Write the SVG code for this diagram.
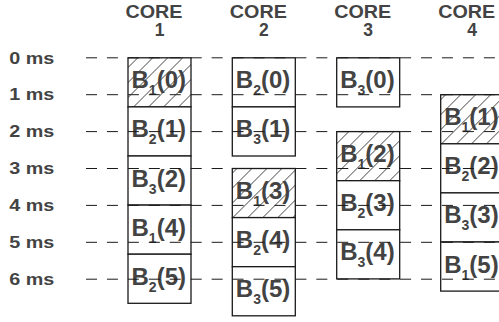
<svg xmlns="http://www.w3.org/2000/svg" width="499" height="322" viewBox="0 0 499 322">
<style>
text{font-family:"Liberation Sans",Arial,sans-serif;font-weight:bold;fill:#434343}
.hd{font-size:18.6px;text-anchor:middle}
.num{font-size:17.5px;text-anchor:middle}
.tm{font-size:16px}
.bl{font-size:24px}
.sub{font-size:14px}
.box{fill:#fff;stroke:#1a1a1a;stroke-width:1.3}
.hatch{fill:url(#hatch);stroke:#1a1a1a;stroke-width:1.3}
.grid{stroke:#1a1a1a;stroke-width:1;stroke-dasharray:11 9.94;fill:none}
</style>
<defs>
<pattern id="hatch" patternUnits="userSpaceOnUse" width="10.6" height="10.6" patternTransform="rotate(45)">
<rect width="10.6" height="10.6" fill="#fff"/>
<line x1="0" y1="0" x2="0" y2="10.6" stroke="#111" stroke-width="1.2"/>
</pattern>
</defs>
<g id="headers">
<text class="hd" x="154" y="18.3" textLength="57" lengthAdjust="spacingAndGlyphs">CORE</text>
<text class="num" x="159.5" y="36">1</text>
<text class="hd" x="258.3" y="18.3" textLength="57" lengthAdjust="spacingAndGlyphs">CORE</text>
<text class="num" x="263.8" y="36">2</text>
<text class="hd" x="362.7" y="18.3" textLength="57" lengthAdjust="spacingAndGlyphs">CORE</text>
<text class="num" x="368.2" y="36">3</text>
<text class="hd" x="466.7" y="18.3" textLength="57" lengthAdjust="spacingAndGlyphs">CORE</text>
<text class="num" x="472.2" y="36">4</text>
</g>
<g id="time-labels">
<text class="tm" x="9.3" y="63.5" textLength="45" lengthAdjust="spacingAndGlyphs">0 ms</text>
<text class="tm" x="9.3" y="100.4" textLength="45" lengthAdjust="spacingAndGlyphs">1 ms</text>
<text class="tm" x="9.3" y="137.3" textLength="45" lengthAdjust="spacingAndGlyphs">2 ms</text>
<text class="tm" x="9.3" y="174.2" textLength="45" lengthAdjust="spacingAndGlyphs">3 ms</text>
<text class="tm" x="9.3" y="211.1" textLength="45" lengthAdjust="spacingAndGlyphs">4 ms</text>
<text class="tm" x="9.3" y="248" textLength="45" lengthAdjust="spacingAndGlyphs">5 ms</text>
<text class="tm" x="9.3" y="284.9" textLength="45" lengthAdjust="spacingAndGlyphs">6 ms</text>
</g>
<g id="core1">
<g id="c1-b1-0"><rect class="hatch" x="128" y="57.8" width="63" height="49.1"/><text class="bl" x="131.5" y="88.3">B<tspan class="sub" dy="7">1</tspan><tspan dy="-7">(0)</tspan></text></g>
<g id="c1-b2-1"><rect class="box" x="128" y="106.9" width="63" height="49.1"/><text class="bl" x="131.5" y="137.4">B<tspan class="sub" dy="7">2</tspan><tspan dy="-7">(1)</tspan></text></g>
<g id="c1-b3-2"><rect class="box" x="128" y="156" width="63" height="49.1"/><text class="bl" x="131.5" y="186.5">B<tspan class="sub" dy="7">3</tspan><tspan dy="-7">(2)</tspan></text></g>
<g id="c1-b1-4"><rect class="box" x="128" y="205.1" width="63" height="49.1"/><text class="bl" x="131.5" y="235.6">B<tspan class="sub" dy="7">1</tspan><tspan dy="-7">(4)</tspan></text></g>
<g id="c1-b2-5"><rect class="box" x="128" y="254.2" width="63" height="49.1"/><text class="bl" x="131.5" y="284.7">B<tspan class="sub" dy="7">2</tspan><tspan dy="-7">(5)</tspan></text></g>
</g>
<g id="core2">
<g id="c2-b2-0"><rect class="box" x="232.3" y="57.8" width="63" height="49.1"/><text class="bl" x="235.8" y="88.3">B<tspan class="sub" dy="7">2</tspan><tspan dy="-7">(0)</tspan></text></g>
<g id="c2-b3-1"><rect class="box" x="232.3" y="106.9" width="63" height="49.1"/><text class="bl" x="235.8" y="137.4">B<tspan class="sub" dy="7">3</tspan><tspan dy="-7">(1)</tspan></text></g>
<g id="c2-b1-3"><rect class="hatch" x="232.3" y="168.5" width="63" height="49.1"/><text class="bl" x="235.8" y="199">B<tspan class="sub" dy="7">1</tspan><tspan dy="-7">(3)</tspan></text></g>
<g id="c2-b2-4"><rect class="box" x="232.3" y="217.6" width="63" height="49.1"/><text class="bl" x="235.8" y="248.1">B<tspan class="sub" dy="7">2</tspan><tspan dy="-7">(4)</tspan></text></g>
<g id="c2-b3-5"><rect class="box" x="232.3" y="266.7" width="63" height="49.1"/><text class="bl" x="235.8" y="297.2">B<tspan class="sub" dy="7">3</tspan><tspan dy="-7">(5)</tspan></text></g>
</g>
<g id="core3">
<g id="c3-b3-0"><rect class="box" x="336.7" y="57.8" width="63" height="49.1"/><text class="bl" x="340.2" y="88.3">B<tspan class="sub" dy="7">3</tspan><tspan dy="-7">(0)</tspan></text></g>
<g id="c3-b1-2"><rect class="hatch" x="336.7" y="131.6" width="63" height="49.1"/><text class="bl" x="340.2" y="162.1">B<tspan class="sub" dy="7">1</tspan><tspan dy="-7">(2)</tspan></text></g>
<g id="c3-b2-3"><rect class="box" x="336.7" y="180.7" width="63" height="49.1"/><text class="bl" x="340.2" y="211.2">B<tspan class="sub" dy="7">2</tspan><tspan dy="-7">(3)</tspan></text></g>
<g id="c3-b3-4"><rect class="box" x="336.7" y="229.8" width="63" height="49.1"/><text class="bl" x="340.2" y="260.3">B<tspan class="sub" dy="7">3</tspan><tspan dy="-7">(4)</tspan></text></g>
</g>
<g id="core4">
<g id="c4-b1-1"><rect class="hatch" x="440.7" y="94.7" width="63" height="49.1"/><text class="bl" x="444.2" y="125.2">B<tspan class="sub" dy="7">1</tspan><tspan dy="-7">(1)</tspan></text></g>
<g id="c4-b2-2"><rect class="box" x="440.7" y="143.8" width="63" height="49.1"/><text class="bl" x="444.2" y="174.3">B<tspan class="sub" dy="7">2</tspan><tspan dy="-7">(2)</tspan></text></g>
<g id="c4-b3-3"><rect class="box" x="440.7" y="192.9" width="63" height="49.1"/><text class="bl" x="444.2" y="223.4">B<tspan class="sub" dy="7">3</tspan><tspan dy="-7">(3)</tspan></text></g>
<g id="c4-b1-5"><rect class="box" x="440.7" y="242" width="63" height="49.1"/><text class="bl" x="444.2" y="272.5">B<tspan class="sub" dy="7">1</tspan><tspan dy="-7">(5)</tspan></text></g>
</g>
<g id="connectors">
<line class="grid" x1="86" y1="57.8" x2="499" y2="57.8"/>
<line class="grid" x1="86" y1="94.7" x2="499" y2="94.7"/>
<line class="grid" x1="86" y1="131.6" x2="499" y2="131.6"/>
<line class="grid" x1="86" y1="168.5" x2="499" y2="168.5"/>
<line class="grid" x1="86" y1="205.4" x2="499" y2="205.4"/>
<line class="grid" x1="86" y1="242.3" x2="499" y2="242.3"/>
<line class="grid" x1="86" y1="279.2" x2="499" y2="279.2"/>
</g>
</svg>
